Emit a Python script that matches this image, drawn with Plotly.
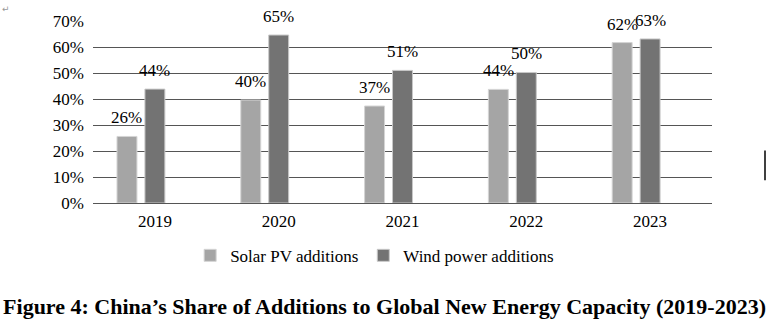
import plotly.graph_objects as go

years = ["2019", "2020", "2021", "2022", "2023"]
solar_pv = [25.6, 39.6, 37.3, 43.7, 61.7]
wind_power = [43.8, 64.6, 51.0, 50.2, 63.1]
blank_series = [None, None, None, None, None]
solar_labels = ["26%", "40%", "37%", "44%", "62%"]
wind_labels = ["44%", "65%", "51%", "50%", "63%"]
y_ticks = [0, 10, 20, 30, 40, 50, 60, 70]
y_tick_text = ["0%", "10%", "20%", "30%", "40%", "50%", "60%", "70%"]

FONT = "Liberation Serif"

fig = go.Figure()
fig.add_trace(go.Bar(
    x=years, y=solar_pv, name="Solar PV additions",
    marker=dict(color="#a5a5a5", line=dict(color="#d4d4d4", width=1)),
))
fig.add_trace(go.Bar(
    x=years, y=wind_power, name="Wind power additions",
    marker=dict(color="#737373", line=dict(color="#c8c8c8", width=1)),
))
fig.add_trace(go.Bar(
    x=years, y=blank_series, name="", showlegend=False,
    marker=dict(color="rgba(0,0,0,0)"), hoverinfo="skip",
))

# data labels placed above each bar (slot offset of grouped bars = 28 px)
for series, labels, shift in ((solar_pv, solar_labels, -28), (wind_power, wind_labels, 0)):
    for i, (v, lab) in enumerate(zip(series, labels)):
        fig.add_annotation(x=i, y=v, text=lab, xshift=shift, yshift=7,
                           xanchor="center", yanchor="bottom", showarrow=False,
                           font=dict(family=FONT, size=17, color="black"))

fig.update_layout(
    width=768, height=329,
    margin=dict(l=93, r=56, t=19, b=126),
    paper_bgcolor="white", plot_bgcolor="white",
    font=dict(family=FONT, size=17, color="black"),
    barmode="group", bargap=0.323, bargroupgap=0.286,
    showlegend=True,
    legend=dict(orientation="h", x=0.455, xanchor="center", y=-0.29, yanchor="middle",
                font=dict(family=FONT, size=17, color="black"),
                itemwidth=30, traceorder="normal"),
    title=dict(text="<b>Figure 4: China’s Share of Additions to Global New Energy Capacity (2019-2023)</b>",
               x=0.5007, xanchor="center", xref="container",
               y=1 - 306 / 329, yanchor="middle", yref="container",
               font=dict(family=FONT, size=22, color="black")),
)
fig.update_xaxes(type="category", showgrid=False, showline=True, linecolor="#555555",
                 linewidth=1, ticks="", ticklabelstandoff=3, tickfont=dict(family=FONT, size=17))
fig.update_yaxes(range=[0, 70], tickvals=y_ticks, ticktext=y_tick_text,
                 showgrid=True, gridcolor="#555555", gridwidth=1,
                 showline=False, zeroline=False, ticks="", ticklabelstandoff=8,
                 tickfont=dict(family=FONT, size=17))

fig.add_annotation(text="↵", xref="paper", yref="paper", x=-93/619, y=1 + 19/184,
                   xanchor="left", yanchor="top", showarrow=False,
                   font=dict(family="DejaVu Sans", size=9, color="#999999"))
fig.add_shape(type="line", xref="paper", yref="paper",
              x0=(765 - 93) / 619, x1=(765 - 93) / 619,
              y0=(203 - 150) / 184, y1=(203 - 180) / 184,
              line=dict(color="black", width=1.5))

fig.write_html("out.html")
